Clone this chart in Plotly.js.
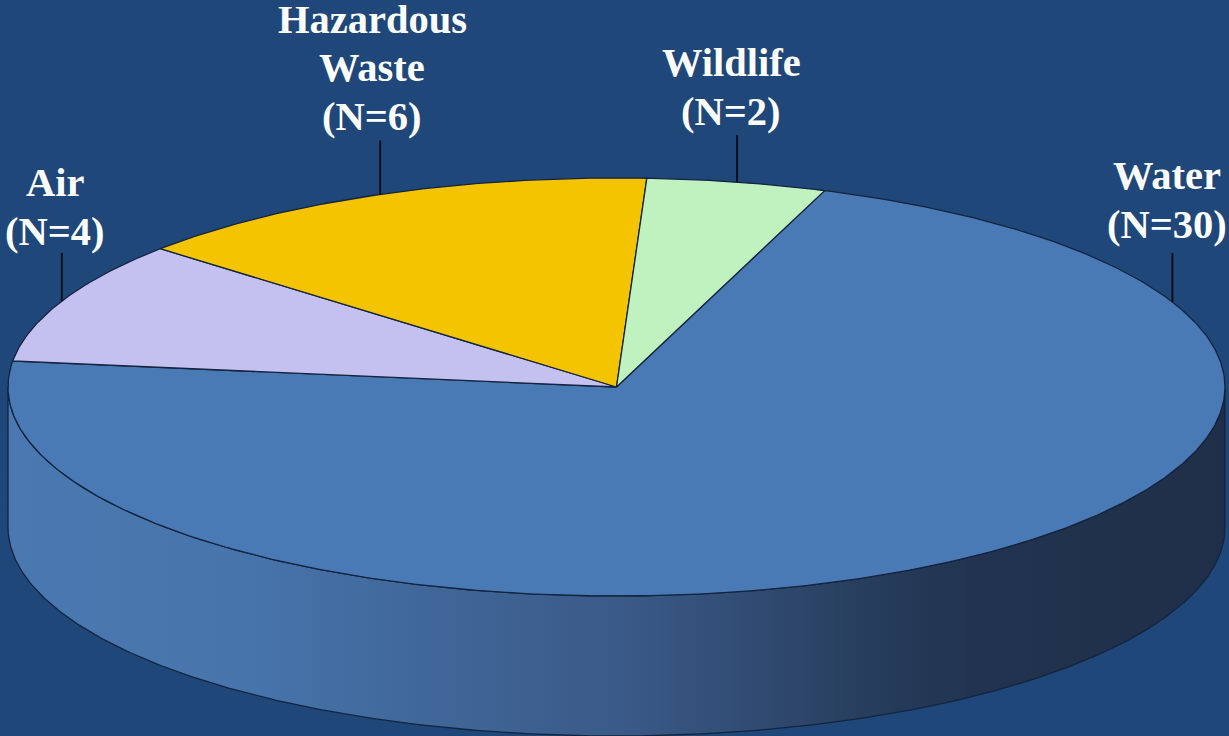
<!DOCTYPE html>
<html>
<head>
<meta charset="utf-8">
<script src="https://cdn.plot.ly/plotly-3.0.1.min.js"></script>
<style>html,body{margin:0;padding:0;background:#1f4779;overflow:hidden}#chart{width:1229px;height:736px}</style>
</head>
<body>
<div id="chart"></div>
<script>
// Issue areas and the number of cases in each, clockwise from the upper right
const sliceNames = ['Water', 'Air', 'Hazardous<br>Waste', 'Wildlife'];
const sliceCounts = [30, 4, 6, 2];
const sliceColors = ['#4a7ab5', '#c4c0f0', '#f5c400', '#c0f2c0'];

// Disc geometry, in axis units
const CX = 616.5, CY = 387, RX = 608.5, RY = 209, DEPTH = 140;
const START_ANGLE = 70;        // where the first slice begins, degrees counter-clockwise from east
const WATER_LEADER_ANGLE = 24; // the large slice's leader sits off its midpoint
const OUTLINE = '#14243f';

const rad = d => d * Math.PI / 180;
const px = t => CX + RX * Math.cos(rad(t));
const py = (t, drop = 0) => CY - RY * Math.sin(rad(t)) + drop;

// Sample an elliptical arc between two angles
function arc(from, to, drop = 0) {
  const n = Math.max(2, Math.ceil(Math.abs(to - from) * 2));
  const xs = [], ys = [];
  for (let i = 0; i <= n; i++) {
    const t = from + (to - from) * i / n;
    xs.push(px(t));
    ys.push(py(t, drop));
  }
  return { xs, ys };
}

const total = sliceCounts.reduce((a, b) => a + b, 0);
const traces = [];

// Side wall: the visible front half between the top rim and the lower rim
const rimTop = arc(180, 360);
const rimLow = arc(360, 180, DEPTH);
traces.push({
  type: 'scatter', mode: 'lines', hoverinfo: 'skip', showlegend: false,
  x: rimTop.xs.concat(rimLow.xs, [rimTop.xs[0]]),
  y: rimTop.ys.concat(rimLow.ys, [rimTop.ys[0]]),
  fill: 'toself',
  fillgradient: {
    type: 'horizontal',
    colorscale: [
      [0, '#4a78b0'], [0.2, '#4674ab'], [0.33, '#41689b'], [0.5, '#3a5a88'],
      [0.6, '#324d75'], [0.7, '#273e5e'], [0.8, '#21334e'], [1, '#1f2f49']
    ]
  },
  line: { color: OUTLINE, width: 1.3 }
});

// Top face slices, with angles proportional to the counts
let angle = START_ANGLE;
const midAngles = [];
sliceCounts.forEach((count, i) => {
  const sweep = 360 * count / total;
  const end = angle - sweep;
  const a = arc(angle, end);
  midAngles.push((angle + end) / 2);
  traces.push({
    type: 'scatter', mode: 'lines', showlegend: false,
    name: sliceNames[i].replace('<br>', ' '),
    text: String(count), hoverinfo: 'name+text',
    x: [CX].concat(a.xs, [CX]),
    y: [CY].concat(a.ys, [CY]),
    fill: 'toself', fillcolor: sliceColors[i],
    line: { color: OUTLINE, width: 1.3 }
  });
  angle = end;
});

// Leader lines and labels; each label is stacked upward from its "(N=..)" line
const leaderLengths = [49, 48, 54, 47];
const labelX = [1167, 55, 372, 731];
const labelBottomY = [224, 231, 116, 111];
const LINE_STEP = 48.5;
const annotations = [];
sliceNames.forEach((name, i) => {
  const t = i === 0 ? WATER_LEADER_ANGLE : midAngles[i];
  traces.push({
    type: 'scatter', mode: 'lines', hoverinfo: 'skip', showlegend: false,
    x: [px(t), px(t)],
    y: [py(t), py(t) - leaderLengths[i]],
    line: { color: '#05101f', width: 2 }
  });
  const lines = name.split('<br>').concat(`(N=${sliceCounts[i]})`);
  lines.forEach((line, k) => {
    annotations.push({
      x: labelX[i], y: labelBottomY[i] - (lines.length - 1 - k) * LINE_STEP,
      xref: 'x', yref: 'y',
      xanchor: 'center', yanchor: 'middle', align: 'center', showarrow: false,
      text: `<b>${line}</b>`,
      font: { family: '"Liberation Serif", "Times New Roman", serif', size: 40.5, color: '#ffffff' }
    });
  });
});

const hiddenAxis = { visible: false, fixedrange: true, showgrid: false, zeroline: false };
Plotly.newPlot('chart', traces, {
  width: 1229, height: 736,
  margin: { l: 0, r: 0, t: 0, b: 0 },
  paper_bgcolor: '#1f4779', plot_bgcolor: '#1f4779',
  showlegend: false,
  xaxis: Object.assign({ range: [0, 1229] }, hiddenAxis),
  yaxis: Object.assign({ range: [736, 0] }, hiddenAxis),
  annotations
}, { displayModeBar: false, staticPlot: true });
</script>
</body>
</html>
